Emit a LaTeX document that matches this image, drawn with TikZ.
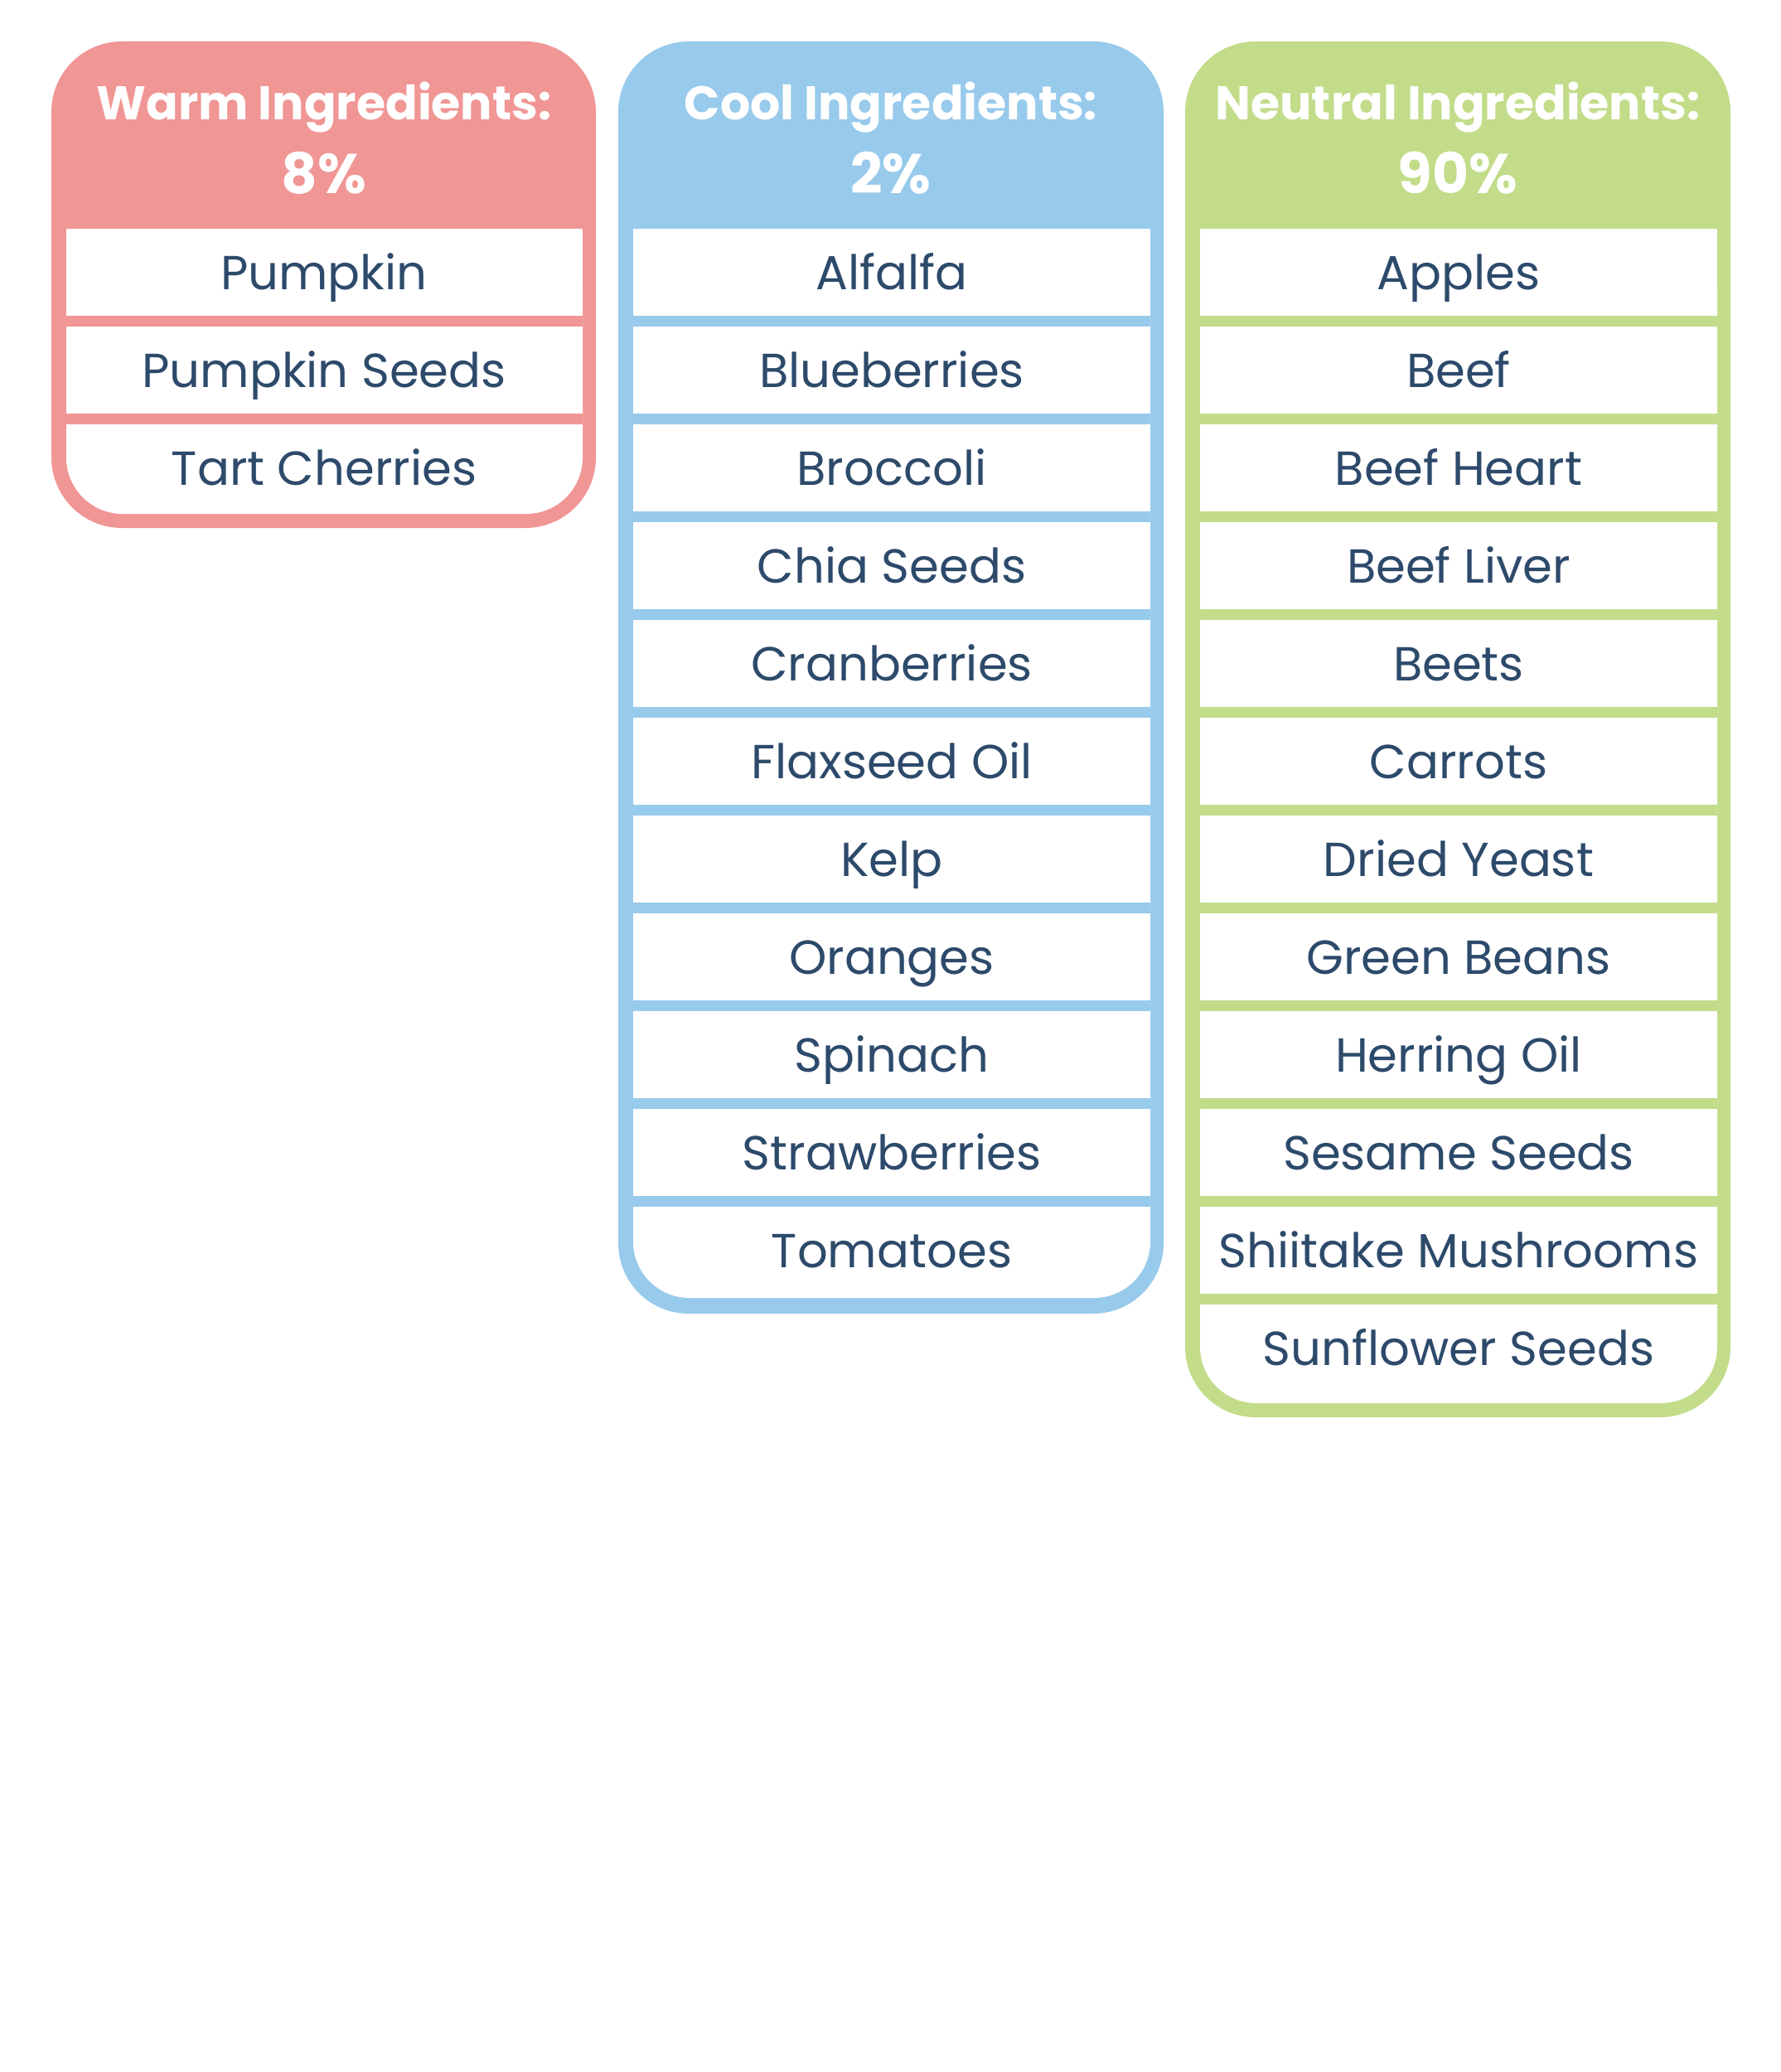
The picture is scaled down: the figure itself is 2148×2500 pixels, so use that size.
\documentclass[tikz,border=0pt]{standalone}
\usepackage{fontspec}
\setmainfont{Poppins}
\definecolor{warm}{HTML}{F09695}
\definecolor{cool}{HTML}{98CAEC}
\definecolor{neutral}{HTML}{C2DC89}
\definecolor{ink}{HTML}{2D4A6B}
\tikzset{
	item/.style={text=ink,anchor=base,inner sep=0pt,font=\fontsize{16.4}{20}\selectfont},
	head/.style={text=white,anchor=base,inner sep=0pt,font=\fontsize{16.2}{19}\selectfont\bfseries},
	pct/.style={text=white,anchor=base,inner sep=0pt,font=\fontsize{19.2}{23}\selectfont\bfseries},
}
\begin{document}
\begin{tikzpicture}[line cap=round,line join=round,x=0.01cm,y=-0.01cm]
		\useasboundingbox (0,0) rectangle (2148,2500);
		% warm
		\fill[warm,rounded corners=0.85cm] (62,50) rectangle (719,637);
		\fill[white,rounded corners=0.68cm] (80,276) rectangle (703,620);
		\fill[white] (80,276) rectangle (703,420);
		\foreach \i in {1,2}
			\fill[warm] (80,263+118*\i) rectangle (703,276+118*\i);
		\node[head] (warmhead) at (391,145) {Warm Ingredients:};
		\node[pct] (warmpct) at (391,233) {8\%};
		\foreach \txt [count=\i from 0] in {Pumpkin,Pumpkin Seeds,Tart Cherries}
			\node[item] (warm-\i) at (391,349+118*\i) {\txt};
		% cool
		\fill[cool,rounded corners=0.85cm] (746,50) rectangle (1404,1585);
		\fill[white,rounded corners=0.68cm] (764,276) rectangle (1388,1566);
		\fill[white] (764,276) rectangle (1388,420);
		\foreach \i in {1,...,10}
			\fill[cool] (764,263+118*\i) rectangle (1388,276+118*\i);
		\node[head] (coolhead) at (1075,145) {Cool Ingredients:};
		\node[pct] (coolpct) at (1075,233) {2\%};
		\foreach \txt [count=\i from 0] in {Alfalfa,Blueberries,Broccoli,Chia Seeds,Cranberries,Flaxseed Oil,Kelp,Oranges,Spinach,Strawberries,Tomatoes}
			\node[item] (cool-\i) at (1076,349+118*\i) {\txt};
		% neutral
		\fill[neutral,rounded corners=0.85cm] (1430,50) rectangle (2088,1710);
		\fill[white,rounded corners=0.68cm] (1448,276) rectangle (2072,1693);
		\fill[white] (1448,276) rectangle (2072,420);
		\foreach \i in {1,...,11}
			\fill[neutral] (1448,263+118*\i) rectangle (2072,276+118*\i);
		\node[head] (neutralhead) at (1759,145) {Neutral Ingredients:};
		\node[pct] (neutralpct) at (1759,233) {90\%};
		\foreach \txt [count=\i from 0] in {Apples,Beef,Beef Heart,Beef Liver,Beets,Carrots,Dried Yeast,Green Beans,Herring Oil,Sesame Seeds,Shiitake Mushrooms,Sunflower Seeds}
			\node[item] (neutral-\i) at (1760,349+118*\i) {\txt};
		\end{tikzpicture}
\end{document}
